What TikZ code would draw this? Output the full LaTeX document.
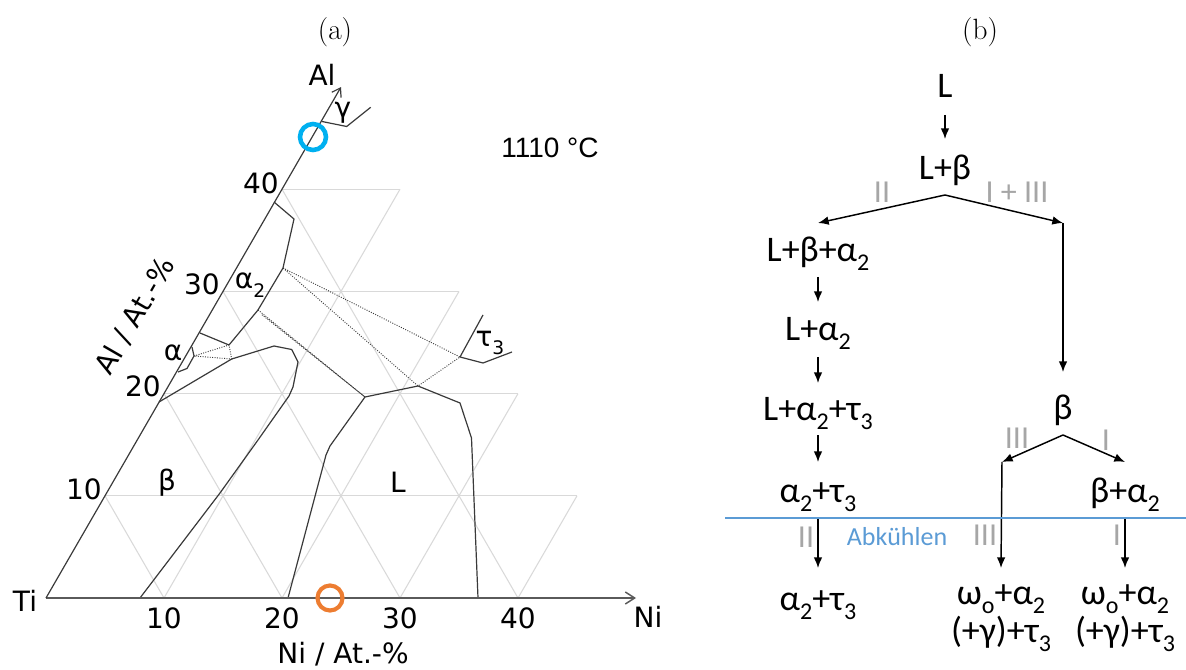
\documentclass[tikz,border=0pt]{standalone}
\usepackage{fontspec}
\usetikzlibrary{arrows.meta,calc}
\newfontfamily\dvfont{DejaVu Sans}
\newfontfamily\calfont{Carlito}
\newfontfamily\libfont{Liberation Sans}
\definecolor{gridc}{HTML}{D9D9D9}
\definecolor{bndc}{HTML}{3A3A3A}
\definecolor{axc}{HTML}{5A5A5A}
\definecolor{romanc}{HTML}{A6A6A6}
\definecolor{coolc}{HTML}{5B9BD5}
\definecolor{cyanc}{HTML}{00B0F0}
\definecolor{orangec}{HTML}{ED7D31}
\newcommand\tsub[1]{\raisebox{-0.3em}{\fontsize{14}{14}\selectfont #1}}
\newcommand\fsub[1]{\raisebox{-0.25em}{\fontsize{18}{18}\selectfont #1}}
\begin{document}
\begin{tikzpicture}[x=0.75pt,y=-0.75pt,
  gridl/.style={draw=gridc, line width=0.8pt},
  bnd/.style={draw=bndc, line width=0.9pt, line join=round},
  tie/.style={draw=bndc, line width=0.7pt, dash pattern=on 0.7pt off 1.1pt},
  tern/.style={font=\dvfont\fontsize{21}{24}\selectfont, inner sep=0pt},
  fc/.style={font=\calfont\fontsize{27}{30}\selectfont, inner sep=0pt, anchor=base},
  rn/.style={font=\calfont\fontsize{24}{26}\selectfont, text=romanc, inner sep=0pt},
  arr/.style={line width=1.1pt, -{Latex[length=8pt,width=6.5pt]}},
  hdr/.style={font=\fontsize{22}{25}\selectfont, inner sep=0pt}]
\useasboundingbox (0,0) rectangle (1186,670);

% headers
\node[hdr] (ha) at (335,32) {(a)};
\node[hdr] (hb) at (980,32) {(b)};

% ---------- ternary grid and axes ----------
\begin{scope}[shift={(46,598)}, x={(8.85pt,0pt)}, y={(4.425pt,7.6643pt)}]
  \foreach \a in {10,20,30,40} \draw[gridl] (0,\a) -- ({50-\a},\a);
  \foreach \n in {10,20,30,40} \draw[gridl] (\n,0) -- (\n,{50-\n});
  \foreach \c in {10,20,30,40} \draw[gridl] (\c,0) -- (0,\c);
  \coordinate (Ti) at (0,0);
  \coordinate (NiEnd) at (50,0);
  \coordinate (AlEnd) at (0,50);
\end{scope}

% phase boundaries
\draw[bnd] (274,202) -- (294,219) -- (283,268) -- (258,310) -- (229,345) -- (200,333);
\draw[bnd] (192,347) -- (194,356) -- (187,368.5) -- (178,372);
\draw[bnd] (159,402) -- (231.7,359) -- (274,346) -- (291.7,349.5) -- (298,362) -- (293,387) -- (289,396) -- (258,440) -- (220,493) -- (140,598);
\draw[bnd] (288,598) -- (326,455) -- (330,446) -- (365,397) -- (418,386) -- (460,403) -- (471.5,438) -- (478,598);
\draw[bnd] (483,315) -- (460,357) -- (483,363) -- (512,352);
\draw[bnd] (322,121.5) -- (346.7,126.5) -- (370.7,107.3);

% tie triangles
\draw[tie] (194,356) -- (229,345) -- (231.7,359) -- cycle;
\draw[tie] (283,268) -- (460,357) -- (418,386) -- cycle;
\draw[tie] (258,310) -- (365,397) -- (261,314);

% axes
\draw[draw=axc, line width=1.1pt, -{Straight Barb[length=7pt,width=9pt]}] (Ti) -- (NiEnd);
\draw[draw=bndc, line width=0.9pt, -{Straight Barb[length=6pt,width=8pt]}] (Ti) -- (AlEnd);

% circles
\draw[cyanc, line width=3.4pt] (313,137) circle[radius=13];
\draw[orangec, line width=3.1pt] (330,598) circle[radius=12.5];

% ternary labels
\node[tern] (tiL) at (25,601) {Ti};
\node[tern] (niL) at (648,617) {Ni};
\node[tern] (alL) at (322,75) {Al};
\node[tern] (niax) at (343,654) {Ni / At.-\%};
\node[tern, rotate=60] (alax) at (135,316) {Al / At.-\%};
\node[tern] (n10) at (164,618) {10};
\node[tern] (n20) at (282,618) {20};
\node[tern] (n30) at (400,618) {30};
\node[tern] (n40) at (518,618) {40};
\node[tern] (a10) at (84,489) {10};
\node[tern] (a20) at (143,386) {20};
\node[tern] (a30) at (202,284) {30};
\node[tern] (a40) at (261,183) {40};
\node[tern] (pb) at (167,483) {β};
\node[tern] (pL) at (398,482) {L};
\node[tern] (pa2) at (250,285) {α\tsub{2}};
\node[tern] (pa) at (173,353) {α};
\node[tern] (pt3) at (490,343) {τ\tsub{3}};
\node[tern] (pg) at (343,113) {γ};
\node[font=\libfont\fontsize{21}{24}\selectfont, inner sep=0pt] (temp) at (550,148) {1110 °C};

% ---------- flow chart ----------
\node[fc] (L) at (945,98) {L};
\node[fc] (Lb) at (945,180) {L+β};
\node[fc] (Lba) at (818,262) {L+β+α\fsub{2}};
\node[fc] (La) at (818,341) {L+α\fsub{2}};
\node[fc] (Lat) at (818,421) {L+α\fsub{2}+τ\fsub{3}};
\node[fc] (at) at (818,502) {α\fsub{2}+τ\fsub{3}};
\node[fc] (at2) at (818,610) {α\fsub{2}+τ\fsub{3}};
\node[fc] (b) at (1063,420) {β};
\node[fc] (ba) at (1125,502) {β+α\fsub{2}};
\node[fc] (w1) at (1001,604) {ω\fsub{o}+α\fsub{2}};
\node[fc] (g1) at (1001,642) {(+γ)+τ\fsub{3}};
\node[fc] (w2) at (1125,604) {ω\fsub{o}+α\fsub{2}};
\node[fc] (g2) at (1125,642) {(+γ)+τ\fsub{3}};

\coordinate (apx1) at ($(Lb.base)+(0,15)$);
\coordinate (cr) at (1063,223);
\coordinate (apx2) at ($(b.base)+(0,15)$);
\coordinate (cl) at (1002,462);

\draw[arr] ($(L.base)+(0,17)$) -- ($(Lb.base)+(0,-41)$);
\draw[arr] (apx1) -- ($(Lba.base)+(0,-39)$);
\draw[arr] (apx1) -- (cr);
\draw[arr] (cr) -- ($(b.base)+(0,-48)$);
\draw[arr] ($(Lba.base)+(0,15)$) -- ($(La.base)+(0,-39)$);
\draw[arr] ($(La.base)+(0,16)$) -- ($(Lat.base)+(0,-38)$);
\draw[arr] ($(Lat.base)+(0,14)$) -- ($(at.base)+(0,-40)$);
\draw[arr] ($(at.base)+(0,16)$) -- ($(at2.base)+(0,-42)$);
\draw[arr] (apx2) -- (cl);
\draw[arr] (cl) -- ($(w1.base)+(0,-36)$);
\draw[arr] (apx2) -- ($(ba.base)+(0,-40)$);
\draw[arr] ($(ba.base)+(0,16)$) -- ($(w2.base)+(0,-36)$);

% cooling line
\coordinate (bl1) at (725,518);
\coordinate (bl2) at (1186,518);
\draw[coolc, line width=0.8pt] (bl1) -- (bl2);
\node[font=\calfont\fontsize{19.5}{22}\selectfont, text=coolc, inner sep=0pt] (abk) at (897,537) {Abkühlen};

% roman numerals
\node[rn] (r1) at (882,192) {II};
\node[rn] (r2) at (1017,192) {I + III};
\node[rn] (r3) at (1017,438) {III};
\node[rn] (r4) at (1106,440) {I};
\node[rn] (r5) at (806,537) {II};
\node[rn] (r6) at (985,535) {III};
\node[rn] (r7) at (1117,535) {I};
\end{tikzpicture}
\end{document}
